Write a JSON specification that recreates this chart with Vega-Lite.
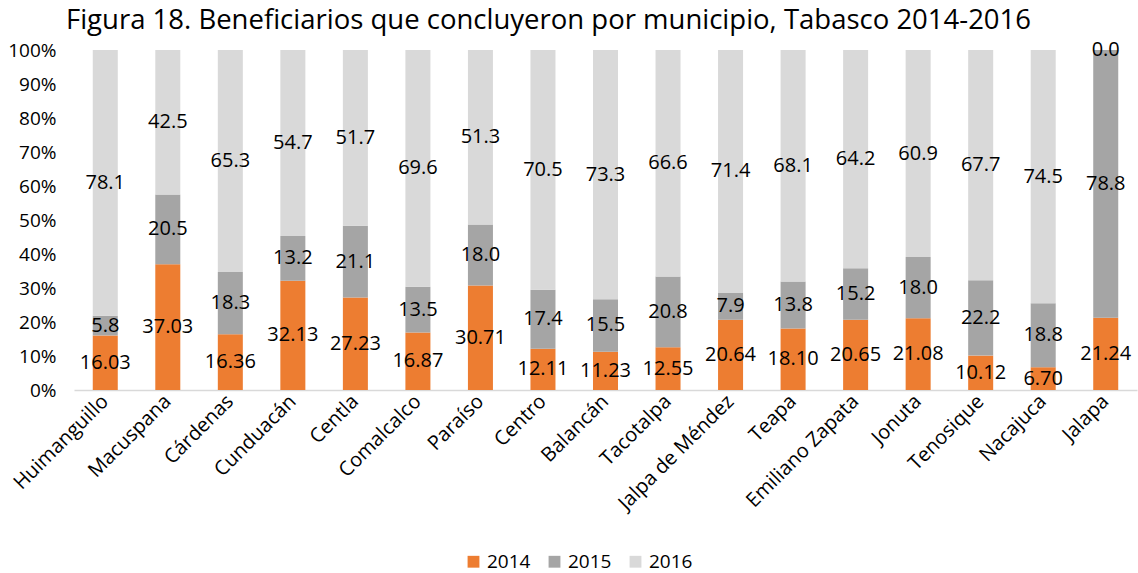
{
  "$schema": "https://vega.github.io/schema/vega-lite/v6.json",
  "width": 1063,
  "height": 340,
  "autosize": {"type": "none"},
  "padding": {"left": 74, "top": 50, "right": 1, "bottom": 183},
  "background": "white",
  "config": {
    "font": "Open Sans",
    "view": {"stroke": null}
  },
  "title": {
    "text": "Figura 18. Beneficiarios que concluyeron por municipio, Tabasco 2014-2016",
    "fontSize": 27.5,
    "fontWeight": "normal",
    "color": "#000000",
    "anchor": "middle",
    "dx": -57,
    "offset": 6
  },
  "data": {
    "values": [
      {"m": "Huimanguillo", "year": "2014", "v": 16.03},
      {"m": "Huimanguillo", "year": "2015", "v": 5.8},
      {"m": "Huimanguillo", "year": "2016", "v": 78.1},
      {"m": "Macuspana", "year": "2014", "v": 37.03},
      {"m": "Macuspana", "year": "2015", "v": 20.5},
      {"m": "Macuspana", "year": "2016", "v": 42.5},
      {"m": "Cárdenas", "year": "2014", "v": 16.36},
      {"m": "Cárdenas", "year": "2015", "v": 18.3},
      {"m": "Cárdenas", "year": "2016", "v": 65.3},
      {"m": "Cunduacán", "year": "2014", "v": 32.13},
      {"m": "Cunduacán", "year": "2015", "v": 13.2},
      {"m": "Cunduacán", "year": "2016", "v": 54.7},
      {"m": "Centla", "year": "2014", "v": 27.23},
      {"m": "Centla", "year": "2015", "v": 21.1},
      {"m": "Centla", "year": "2016", "v": 51.7},
      {"m": "Comalcalco", "year": "2014", "v": 16.87},
      {"m": "Comalcalco", "year": "2015", "v": 13.5},
      {"m": "Comalcalco", "year": "2016", "v": 69.6},
      {"m": "Paraíso", "year": "2014", "v": 30.71},
      {"m": "Paraíso", "year": "2015", "v": 18.0},
      {"m": "Paraíso", "year": "2016", "v": 51.3},
      {"m": "Centro", "year": "2014", "v": 12.11},
      {"m": "Centro", "year": "2015", "v": 17.4},
      {"m": "Centro", "year": "2016", "v": 70.5},
      {"m": "Balancán", "year": "2014", "v": 11.23},
      {"m": "Balancán", "year": "2015", "v": 15.5},
      {"m": "Balancán", "year": "2016", "v": 73.3},
      {"m": "Tacotalpa", "year": "2014", "v": 12.55},
      {"m": "Tacotalpa", "year": "2015", "v": 20.8},
      {"m": "Tacotalpa", "year": "2016", "v": 66.6},
      {"m": "Jalpa de Méndez", "year": "2014", "v": 20.64},
      {"m": "Jalpa de Méndez", "year": "2015", "v": 7.9},
      {"m": "Jalpa de Méndez", "year": "2016", "v": 71.4},
      {"m": "Teapa", "year": "2014", "v": 18.10},
      {"m": "Teapa", "year": "2015", "v": 13.8},
      {"m": "Teapa", "year": "2016", "v": 68.1},
      {"m": "Emiliano Zapata", "year": "2014", "v": 20.65},
      {"m": "Emiliano Zapata", "year": "2015", "v": 15.2},
      {"m": "Emiliano Zapata", "year": "2016", "v": 64.2},
      {"m": "Jonuta", "year": "2014", "v": 21.08},
      {"m": "Jonuta", "year": "2015", "v": 18.0},
      {"m": "Jonuta", "year": "2016", "v": 60.9},
      {"m": "Tenosique", "year": "2014", "v": 10.12},
      {"m": "Tenosique", "year": "2015", "v": 22.2},
      {"m": "Tenosique", "year": "2016", "v": 67.7},
      {"m": "Nacajuca", "year": "2014", "v": 6.70},
      {"m": "Nacajuca", "year": "2015", "v": 18.8},
      {"m": "Nacajuca", "year": "2016", "v": 74.5},
      {"m": "Jalapa", "year": "2014", "v": 21.24},
      {"m": "Jalapa", "year": "2015", "v": 78.8},
      {"m": "Jalapa", "year": "2016", "v": 0.0}
    ]
  },
  "transform": [
    {"stack": "v", "groupby": ["m"], "sort": [{"field": "year", "order": "ascending"}], "offset": "normalize", "as": ["y0", "y1"]},
    {"calculate": "(datum.y0 + datum.y1) / 2", "as": "ymid"}
  ],
  "encoding": {
    "x": {
      "field": "m",
      "type": "nominal",
      "sort": null,
      "scale": {"paddingInner": 0.6, "paddingOuter": 0.3},
      "axis": {
        "title": null,
        "labelAngle": -45,
        "labelAlign": "right",
        "labelBaseline": "middle",
        "labelFontSize": 20,
        "labelColor": "#000000",
        "labelPadding": 8,
        "labelOverlap": false,
        "ticks": false,
        "domainColor": "#D9D9D9",
        "domainWidth": 1.5
      }
    },
    "y": {
      "field": "ymid",
      "type": "quantitative",
      "scale": {"domain": [0, 1]},
      "axis": {
        "title": null,
        "format": ".0%",
        "values": [0, 0.1, 0.2, 0.3, 0.4, 0.5, 0.6, 0.7, 0.8, 0.9, 1.0],
        "grid": false,
        "domain": false,
        "ticks": false,
        "labelOverlap": false,
        "labelFontSize": 19,
        "labelColor": "#000000",
        "labelPadding": 18
      }
    }
  },
  "layer": [
    {
      "mark": {"type": "bar"},
      "encoding": {
        "y": {
          "field": "y0",
          "type": "quantitative",
          "scale": {"domain": [0, 1]},
          "axis": {
            "title": null,
            "format": ".0%",
            "values": [0, 0.1, 0.2, 0.3, 0.4, 0.5, 0.6, 0.7, 0.8, 0.9, 1.0],
            "grid": false,
            "domain": false,
            "ticks": false,
            "labelOverlap": false,
            "labelFontSize": 19,
            "labelColor": "#000000",
            "labelPadding": 18
          }
        },
        "y2": {"field": "y1"},
        "color": {
          "field": "year",
          "type": "nominal",
          "scale": {"domain": ["2014", "2015", "2016"], "range": ["#ED7D31", "#A5A5A5", "#D9D9D9"]},
          "legend": {
            "title": null,
            "orient": "none",
            "direction": "horizontal",
            "legendX": 390,
            "legendY": 502,
            "symbolType": "square",
            "symbolSize": 140,
            "symbolStrokeWidth": 0,
            "labelFontSize": 19,
            "labelColor": "#000000",
            "columnPadding": 14,
            "labelOffset": 4
          }
        }
      }
    },
    {
      "transform": [{"filter": "datum.year == '2014'"}],
      "mark": {"type": "text", "fontSize": 20, "color": "#000000", "baseline": "middle"},
      "encoding": {
        "text": {"field": "v", "type": "quantitative", "format": ".2f"}
      }
    },
    {
      "transform": [{"filter": "datum.year != '2014'"}],
      "mark": {"type": "text", "fontSize": 20, "color": "#000000", "baseline": "middle"},
      "encoding": {
        "text": {"field": "v", "type": "quantitative", "format": ".1f"}
      }
    }
  ]
}
